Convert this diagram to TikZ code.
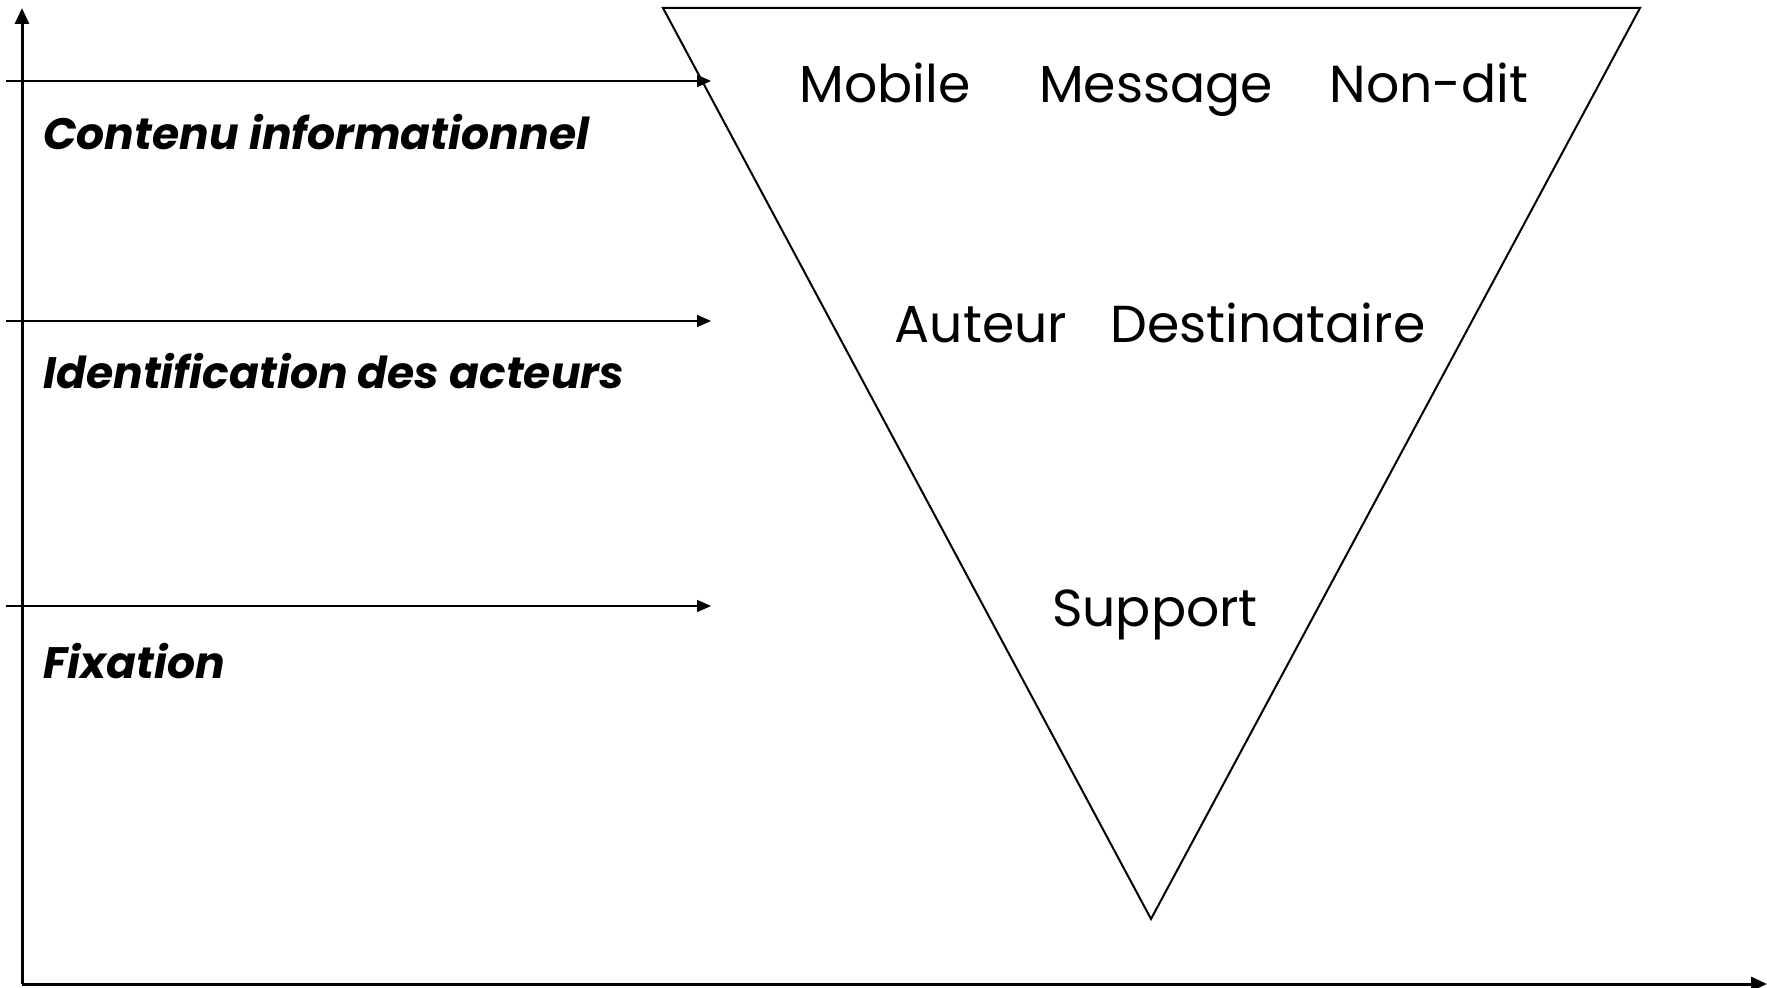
\documentclass[tikz,border=0pt]{standalone}
\usepackage{fontspec}
\setmainfont{Poppins}
\usetikzlibrary{arrows.meta}

\tikzset{
  axe/.style={line width=1.5pt, -{Triangle[length=8pt,width=7pt]}},
  fleche/.style={line width=0.8pt, -{Triangle[length=7pt,width=6pt]}},
  niveau/.style={anchor=base west, inner sep=0pt, font=\fontsize{22}{26}\selectfont\bfseries\itshape},
  terme/.style={anchor=base, inner sep=0pt, font=\fontsize{26}{31}\selectfont},
}

\begin{document}
\begin{tikzpicture}[x=0.5pt,y=0.5pt,yscale=-1,xscale=1]
    \useasboundingbox (0,0) rectangle (1767,988);

    %Axes
    \coordinate (origine) at (22,984);
    \coordinate (haut) at (22,8);
    \coordinate (droite) at (1767,984);
    \draw [axe] (origine) -- (haut);
    \draw [axe] (origine) -- (droite);

    %Triangle
    \coordinate (tg) at (663,8);
    \coordinate (td) at (1640,8);
    \coordinate (tb) at (1151,919);
    \draw [line width=1pt] (tg) -- (td) -- (tb) -- cycle;

    %Straight Lines
    \coordinate (d1) at (6,81);
    \coordinate (f1) at (711,81);
    \draw [fleche] (d1) -- (f1);
    \coordinate (d2) at (6,321);
    \coordinate (f2) at (711,321);
    \draw [fleche] (d2) -- (f2);
    \coordinate (d3) at (6,606);
    \coordinate (f3) at (711,606);
    \draw [fleche] (d3) -- (f3);

    % Text Node
    \node [niveau] (contenu) at (43,150) {Contenu informationnel};
    % Text Node
    \node [niveau] (acteurs) at (43,389) {Identification des acteurs};
    % Text Node
    \node [niveau] (fixation) at (43,678) {Fixation};

    % Text Node
    \node [terme] (mobile) at (885,103) {Mobile};
    \node [terme] (message) at (1156,103) {Message};
    \node [terme] (nondit) at (1429,103) {Non-dit};
    % Text Node
    \node [terme] (auteur) at (981,343) {Auteur};
    \node [terme] (destinataire) at (1268,343) {Destinataire};
    % Text Node
    \node [terme] (support) at (1155,627) {Support};

\end{tikzpicture}
\end{document}
